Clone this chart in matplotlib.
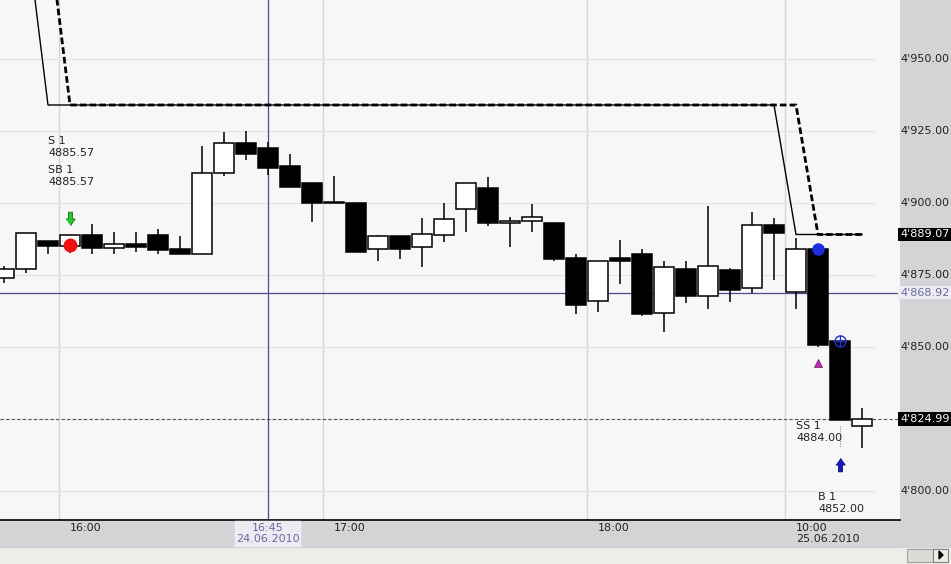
import matplotlib.pyplot as plt
import numpy as np
from matplotlib.patches import Rectangle, Polygon

# 5-minute bars, 24.06.2010 15:45 ... 18:40, then 25.06.2010 10:00 ...
times = ["15:45", "15:50", "15:55", "16:00", "16:05", "16:10", "16:15", "16:20",
         "16:25", "16:30", "16:35", "16:40", "16:45", "16:50", "16:55", "17:00",
         "17:05", "17:10", "17:15", "17:20", "17:25", "17:30", "17:35", "17:40",
         "17:45", "17:50", "17:55", "18:00", "18:05", "18:10", "18:15", "18:20",
         "18:25", "18:30", "18:35", "18:40", "10:00", "10:05", "10:10", "10:15"]

opens = [4873.96, 4877.08, 4886.81, 4885.07, 4888.89, 4884.38, 4885.76, 4888.89,
         4884.03, 4882.29, 4910.42, 4920.83, 4919.10, 4912.85, 4906.94, 4900.00,
         4900.00, 4884.03, 4888.54, 4884.72, 4888.89, 4897.92, 4905.21, 4893.06,
         4893.75, 4893.06, 4880.90, 4865.97, 4880.90, 4882.29, 4861.81, 4877.08,
         4867.71, 4876.74, 4870.49, 4892.36, 4869.10, 4884.03, 4852.08, 4822.57]
highs = [4878.13, 4889.58, 4886.81, 4888.89, 4892.71, 4889.93, 4889.93, 4890.97,
         4888.54, 4919.79, 4924.65, 4925.00, 4921.18, 4917.01, 4906.94, 4909.38,
         4900.00, 4888.89, 4888.54, 4894.79, 4900.00, 4906.94, 4909.03, 4895.14,
         4899.65, 4893.06, 4882.29, 4879.86, 4887.15, 4884.03, 4879.86, 4879.86,
         4898.96, 4877.43, 4896.88, 4894.79, 4887.85, 4884.03, 4852.08, 4828.82]
lows = [4872.22, 4875.69, 4882.29, 4882.64, 4882.29, 4882.29, 4882.99, 4882.29,
        4882.29, 4882.29, 4909.38, 4914.93, 4909.72, 4905.56, 4893.40, 4900.00,
        4882.99, 4879.86, 4880.56, 4877.78, 4886.46, 4889.93, 4892.01, 4884.72,
        4889.93, 4879.86, 4861.46, 4862.15, 4871.88, 4860.76, 4855.21, 4865.28,
        4863.19, 4865.63, 4868.75, 4873.26, 4863.19, 4850.00, 4824.65, 4814.93]
closes = [4877.08, 4889.58, 4885.07, 4888.89, 4884.38, 4885.76, 4884.72, 4883.68,
          4882.29, 4910.42, 4920.83, 4917.01, 4912.15, 4905.56, 4900.00, 4900.00,
          4882.99, 4888.54, 4884.03, 4889.24, 4894.44, 4906.94, 4893.06, 4893.75,
          4895.14, 4880.56, 4864.58, 4879.86, 4879.86, 4861.46, 4877.78, 4867.71,
          4878.13, 4869.79, 4892.36, 4889.58, 4884.03, 4850.69, 4824.65, 4824.99]

# trailing stop lines (solid = fast, dashed = one bar later)
stop_fast = [None, 4995.8] + [4934.03] * 34 + [4889.07] * 4
stop_slow = [None, None, 4995.8] + [4934.03] * 34 + [4889.07] * 3

price_levels = [4950, 4925, 4900, 4875, 4850, 4825, 4800]
time_ticks = ["16:00", "17:00", "18:00", "10:00"]
new_day = "25.06.2010"
cross_time, cross_date = "16:45", "24.06.2010"
cross_price = 4868.92
last_price = 4824.99
stop_price = 4889.07

sig_labels = ["S 1", "SB 1", "SS 1", "B 1"]
sig_values = [4885.57, 4885.57, 4884.00, 4852.00]

W, H = 951, 564
fig = plt.figure(figsize=(W / 100, H / 100), dpi=100)
fig.patch.set_facecolor("#efede9")

def fx(px):
    return px / W

def fy(py):
    return 1 - py / H

# grey bands (price panel + time panel), drawn below the axes
fig.patches.append(Rectangle((fx(900), fy(547)), fx(51), 547 / H,
                             transform=fig.transFigure, color="#d5d3d6", zorder=-2))
fig.patches.append(Rectangle((0, fy(547)), fx(900), 27 / H,
                             transform=fig.transFigure, color="#d5d3d6", zorder=-2))

ax = fig.add_axes([0, fy(520), fx(900), 520 / H])
ax.set_facecolor("#f7f7f7")
x = np.arange(len(times))
ax.set_xlim(-4 / 22, 896 / 22)
ymin, ymax = 4789.93, 4970.49
ax.set_ylim(ymin, ymax)
ax.set_xticks([])
ax.set_yticks([])
for s in ["top", "left", "right"]:
    ax.spines[s].set_visible(False)
ax.spines["bottom"].set_color("black")
ax.spines["bottom"].set_linewidth(1.2)

# grid
tick_pos = [times.index(t) - 0.5 for t in time_ticks]
for t in tick_pos:
    ax.axvline(t, color="#d6d6d6", lw=1.0, zorder=0)
for p in price_levels:
    ax.axhline(p, xmax=875 / 900, color="#e6e6e6", lw=1.0, zorder=0)

# crosshair
ax.axvline(times.index(cross_time), color="#4a4a8c", lw=0.9, zorder=1)
ax.axhline(cross_price, color="#4a4a8c", lw=0.9, zorder=1)
ax.axhline(last_price, color="#555555", lw=0.8, ls=(0, (3, 2)), zorder=1)

# candles
o = np.array(opens)
c = np.array(closes)
ax.vlines(x, lows, highs, color="black", lw=1.1, zorder=2)
bottoms = np.minimum(o, c)
heights = np.maximum(np.abs(c - o), 0.25)
colors = ["white" if cc >= oo else "black" for oo, cc in zip(o, c)]
ax.bar(x, heights, bottom=bottoms, width=0.88, color=colors,
       edgecolor="black", lw=1.1, zorder=3)

# stop lines
ax.plot(x, np.array(stop_fast, dtype=float), color="black", lw=1.0, zorder=4)
ax.plot(x, np.array(stop_slow, dtype=float), color="black", lw=2.0,
        dashes=(2.4, 1.1), zorder=4)

# signals
arrow_down = [(-0.45, 0.15), (-0.2, 0.15), (-0.2, 0.8), (0.2, 0.8), (0.2, 0.15),
              (0.45, 0.15), (0, -0.5)]
arrow_up = [(px, -py) for px, py in arrow_down]
ax.plot(3, 4894.1, marker=arrow_down, ms=12, color="#22cc22", mec="#226622",
        mew=0.6, zorder=6)
ax.plot(3, sig_values[0], marker="o", ms=9, color="#ee1111", mec="#ee1111", zorder=6)
ax.plot(37, sig_values[2], marker="o", ms=8, color="#1a2ee0", mec="#1a2ee0", zorder=6)
ax.plot(38, sig_values[3], marker="o", ms=8, mfc="none", mec="#2233cc", mew=1.0, zorder=6)
ax.plot(38, sig_values[3], marker="+", ms=8, mec="#2233cc", mew=1.0, zorder=6)
ax.plot(37, 4844.4, marker="^", ms=6, color="#d020c0", mec="#603060", mew=0.6, zorder=6)
ax.plot(38, 4809.7, marker=arrow_up, ms=12, color="#1a1ab8", mec="#10107a",
        mew=0.6, zorder=6)
ax.plot([38, 38], [4822.5, 4815.0], color="#777777", lw=0.7, ls=(0, (1, 1.5)), zorder=5)

txt = dict(fontsize=8, color="#222222", ha="left", va="top", linespacing=1.3,
           family="DejaVu Sans", zorder=7)
ax.text(2.0, 4923.3, f"{sig_labels[0]}\n{sig_values[0]:.2f}", **txt)
ax.text(2.0, 4913.2, f"{sig_labels[1]}\n{sig_values[1]:.2f}", **txt)
ax.text(36.0, 4824.3, f"{sig_labels[2]}\n{sig_values[2]:.2f}", **txt)
ax.text(37.0, 4799.7, f"{sig_labels[3]}\n{sig_values[3]:.2f}", **txt)

# price panel
pax = fig.add_axes([fx(900), fy(520), fx(51), 520 / H])
pax.set_ylim(ymin, ymax)
pax.set_xlim(0, 1)
pax.axis("off")

def fmt(v):
    return f"{v:,.2f}".replace(",", "'")

for p in price_levels:
    if abs(p - last_price) < 3 or abs(p - stop_price) < 3:
        continue
    pax.text(0.0, p, fmt(p), fontsize=8, color="#222222", ha="left", va="center")
pax.text(0.0, stop_price, fmt(stop_price), fontsize=8, color="white", ha="left",
         va="center", bbox=dict(boxstyle="square,pad=0.15", fc="black", ec="none"))
pax.text(0.0, last_price, fmt(last_price), fontsize=8, color="white", ha="left",
         va="center", bbox=dict(boxstyle="square,pad=0.15", fc="black", ec="none"))
pax.text(0.0, cross_price, fmt(cross_price), fontsize=8, color="#6a6aa0", ha="left",
         va="center", bbox=dict(boxstyle="square,pad=0.15", fc="#ececf2", ec="none"))

# time panel
tax = fig.add_axes([0, fy(547), fx(900), 27 / H])
tax.set_xlim(ax.get_xlim())
tax.set_ylim(27, 0)
tax.axis("off")
for t in time_ticks:
    i = times.index(t)
    label = t if t != "10:00" else f"{t}\n{new_day}"
    tax.text(i, 3, label, fontsize=8, color="#222222", ha="left", va="top",
             linespacing=1.15)
ci = times.index(cross_time)
tax.add_patch(Rectangle((ci - 1.5, 0.5), 2.95, 26.5, color="#ececf2", zorder=2))
tax.text(ci, 3, f"{cross_time}\n{cross_date}", fontsize=8, color="#6a6aa0",
         ha="center", va="top", linespacing=1.15, zorder=3)

# scrollbar stub
fig.patches.append(Rectangle((fx(907), fy(562)), fx(26), 13 / H, transform=fig.transFigure,
                             fc="#dcdad6", ec="#a0a0a0", lw=0.8))
fig.patches.append(Rectangle((fx(933), fy(562)), fx(15), 13 / H, transform=fig.transFigure,
                             fc="#eeece8", ec="#808080", lw=0.8))
fig.patches.append(Polygon([(fx(939), fy(551)), (fx(939), fy(559)), (fx(943), fy(555))],
                           closed=True, transform=fig.transFigure, color="black"))

fig.savefig("out.png", dpi=100, facecolor=fig.get_facecolor())
